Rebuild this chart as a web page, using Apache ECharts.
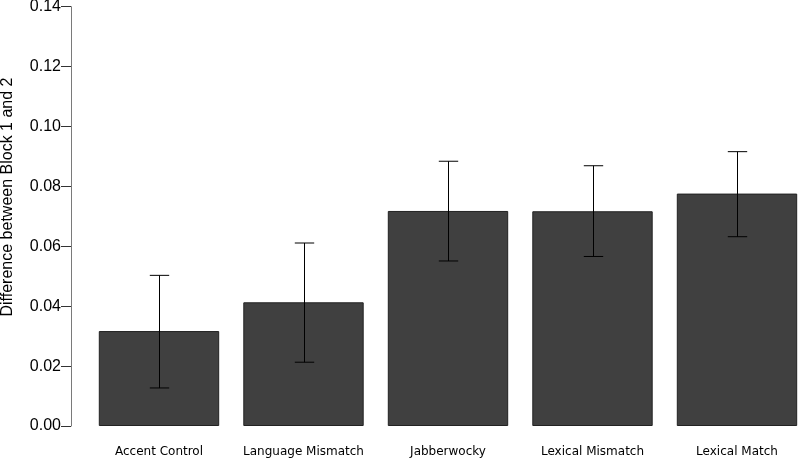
<!DOCTYPE html>
<html>
<head>
<meta charset="utf-8">
<script src="https://cdn.jsdelivr.net/npm/echarts@6/dist/echarts.min.js"></script>
<style>html,body{margin:0;padding:0;background:#fff}#c{width:800px;height:462px}</style>
</head>
<body>
<div id="c"></div>
<script>
var categories = ['Accent Control', 'Language Mismatch', 'Jabberwocky', 'Lexical Mismatch', 'Lexical Match'];
var means = [0.0317, 0.0413, 0.0718, 0.0717, 0.0776];
var lower = [0.0127, 0.0213, 0.0551, 0.0566, 0.0632];
var upper = [0.0503, 0.0611, 0.0884, 0.0869, 0.0916];
var yTitle = 'Difference between Block 1 and 2';

var errData = categories.map(function (c, i) { return [i, lower[i], upper[i]]; });

var chart = echarts.init(document.getElementById('c'), null, {renderer: 'canvas'});
chart.setOption({
  animation: false,
  grid: {left: 86.75, width: 722.5, top: 6.7, height: 419.3, outerBoundsMode: 'none', containLabel: false},
  graphic: [{
    type: 'text',
    x: 8, y: 197,
    rotation: Math.PI / 2,
    style: {
      text: yTitle, fill: '#000', font: '16px "Liberation Sans"',
      align: 'center', verticalAlign: 'middle'
    }
  }],
  xAxis: {
    type: 'category',
    data: categories,
    axisLine: {show: false},
    axisTick: {show: false},
    axisLabel: {color: '#000', fontFamily: 'DejaVu Sans', fontSize: 12, margin: 20, interval: 0}
  },
  yAxis: {
    type: 'value',
    min: 0, max: 0.14, interval: 0.02,
    offset: 15.75,
    splitLine: {show: false},
    axisLine: {show: true, lineStyle: {color: '#7a7a7a', width: 1}},
    axisTick: {show: true, length: 10, lineStyle: {color: '#333', width: 1}},
    axisLabel: {
      color: '#000', fontFamily: 'Liberation Sans', fontSize: 16, margin: 10,
      formatter: function (v) { return v.toFixed(2); }
    }
  },
  series: [
    {
      type: 'bar',
      data: means,
      barWidth: 120.4,
      itemStyle: {color: '#404040', borderColor: '#222', borderWidth: 1}
    },
    {
      type: 'custom',
      data: errData,
      z: 10,
      renderItem: function (params, api) {
        var i = api.value(0);
        var lo = api.coord([i, api.value(1)]);
        var hi = api.coord([i, api.value(2)]);
        var x = Math.round(lo[0]) + 0.5;
        var half = 9.7;
        var st = {stroke: '#000', lineWidth: 1};
        return {
          type: 'group',
          children: [
            {type: 'line', shape: {x1: x, y1: hi[1], x2: x, y2: lo[1]}, style: st},
            {type: 'line', shape: {x1: x - half, y1: hi[1], x2: x + half, y2: hi[1]}, style: st},
            {type: 'line', shape: {x1: x - half, y1: lo[1], x2: x + half, y2: lo[1]}, style: st}
          ]
        };
      }
    }
  ]
});
</script>
</body>
</html>
